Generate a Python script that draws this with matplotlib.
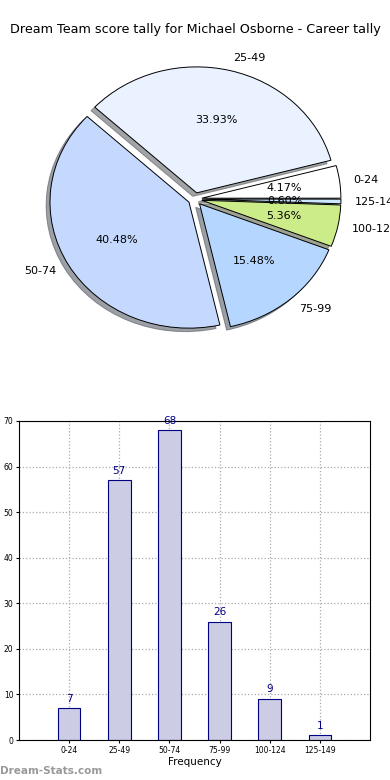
import matplotlib
matplotlib.use("Agg")
import matplotlib.pyplot as plt

categories = ["0-24", "25-49", "50-74", "75-99", "100-124", "125-149"]
counts = [7, 57, 68, 26, 9, 1]
pie_colors = ["#ffffff", "#eaf1ff", "#c5d9ff", "#b5d6ff", "#ccec8a", "#cce6ff"]
title = "Dream Team score tally for Michael Osborne - Career tally"
yticks = [0, 10, 20, 30, 40, 50, 60, 70]

W, H = 390, 780
fig = plt.figure(figsize=(W / 100, H / 100), dpi=100)
fig.patch.set_facecolor("white")

# --- pie (elliptical, like the reference) ---
cx, cy = 195, 199
rx, ry = 139, 126
L = 1.45
ax1 = fig.add_axes([(cx - rx * L) / W, 1 - (cy + ry * L) / H,
                    2 * rx * L / W, 2 * ry * L / H])
wedges, texts, autotexts = ax1.pie(
    counts, labels=categories, colors=pie_colors, explode=[0.05] * len(counts),
    autopct="%1.2f%%", startangle=0, shadow=True,
    wedgeprops=dict(edgecolor="black", linewidth=0.7),
    textprops=dict(fontsize=8))
ax1.set_aspect("auto")
ax1.set_xlim(-L, L)
ax1.set_ylim(-L, L)
ax1.axis("off")

fig.text(0.5, 1 - 30 / H, title, ha="center", va="center", fontsize=9.2)

# --- bar chart ---
ax2 = fig.add_axes([19 / W, 1 - 740 / H, (370 - 19) / W, (740 - 421) / H])
x = list(range(len(categories)))
ax2.bar(x, counts, width=0.45, color="#ccccE4", edgecolor="#000080", linewidth=0.8,
        zorder=2)
for xi, c in zip(x, counts):
    ax2.text(xi, c + 1, str(c), ha="center", va="bottom", color="#000080", fontsize=7.5)
ax2.set_xlim(-1, 6)
ax2.set_ylim(0, 70)
ax2.set_xticks(x)
ax2.set_xticklabels(categories, fontsize=5.5)
ax2.set_yticks(yticks)
ax2.set_yticklabels([str(v) for v in yticks], fontsize=5.5)
ax2.tick_params(length=2, pad=2)
ax2.grid(True, linestyle=":", color="#aaaaaa", linewidth=0.9, zorder=0)
ax2.set_axisbelow(True)
ax2.set_xlabel("Frequency", fontsize=7.5, labelpad=2)

fig.text(0 / W, 1 - 771 / H, "Dream-Stats.com", ha="left", va="center",
         fontsize=7.5, color="#999999", fontweight="bold")

fig.savefig("out.png", dpi=100)
